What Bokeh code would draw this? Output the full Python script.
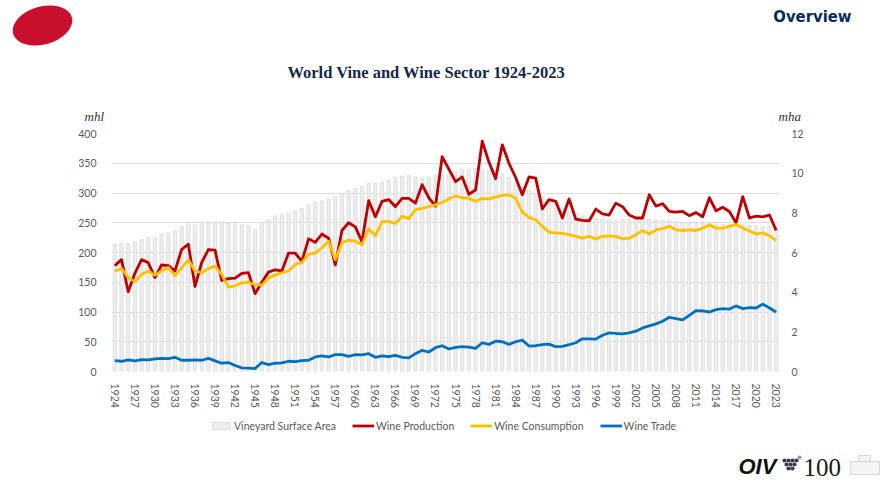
from bokeh.plotting import figure
from bokeh.models import (Range1d, LinearAxis, FixedTicker, Legend, LegendItem,
                          Label, ColumnDataSource)
from bokeh.layouts import column
from bokeh.embed import file_html
from bokeh.resources import INLINE

# ---------------- data ----------------
years = list(range(1924, 2024))

vineyard_area = [  # mha (right axis)
    6.40, 6.45, 6.45, 6.53, 6.65, 6.77, 6.77, 6.93, 6.98, 7.10,
    7.32, 7.45, 7.37, 7.52, 7.50, 7.53, 7.53, 7.47, 7.45, 7.40,
    7.37, 7.15, 7.52, 7.65, 7.85, 7.93, 7.98, 8.10, 8.23, 8.40,
    8.53, 8.60, 8.70, 8.82, 8.98, 9.12, 9.23, 9.32, 9.48, 9.50,
    9.53, 9.65, 9.80, 9.85, 9.88, 9.80, 9.73, 9.80, 9.88, 9.92,
    9.98, 10.07, 10.18, 10.18, 10.23, 10.20, 10.15, 10.08, 9.95, 9.80,
    9.60, 9.35, 9.12, 8.95, 8.80, 8.62, 8.45, 8.25, 8.10, 7.95,
    7.85, 7.76, 7.70, 7.66, 7.63, 7.63, 7.66, 7.69, 7.71, 7.70,
    7.67, 7.64, 7.62, 7.60, 7.56, 7.53, 7.50, 7.48, 7.47, 7.47,
    7.45, 7.43, 7.42, 7.41, 7.42, 7.38, 7.35, 7.32, 7.30, 7.25,
]

wine_production = [  # mhl
    178, 188, 134, 165, 188, 183, 158, 179, 178, 169,
    205, 214, 143, 183, 205, 204, 153, 156, 157, 165,
    166, 131, 150, 167, 171, 169, 199, 199, 185, 223,
    217, 231, 224, 179, 237, 250, 243, 218, 287, 260,
    286, 289, 277, 291, 291, 283, 314, 292, 278, 361,
    340, 319, 327, 298, 305, 387, 352, 324, 381, 350,
    326, 297, 327, 325, 273, 289, 286, 258, 290, 256,
    254, 253, 273, 265, 263, 283, 277, 263, 258, 258,
    297, 278, 282, 269, 268, 269, 262, 267, 260, 292,
    270, 276, 269, 250, 294, 258, 261, 260, 263, 237,
]

wine_consumption = [  # mhl
    169, 173, 158, 151, 163, 169, 162, 169, 175, 161,
    174, 188, 169, 166, 173, 177, 163, 142, 144, 149,
    150, 146, 145, 157, 162, 166, 169, 180, 183, 197,
    199, 208, 219, 188, 216, 221, 219, 213, 240, 228,
    252, 252, 249, 261, 257, 272, 274, 277, 280, 284,
    290, 295, 292, 291, 286, 291, 290, 293, 296, 297,
    291, 268, 259, 255, 244, 234, 233, 232, 230, 227,
    224, 227, 223, 227, 228, 227, 223, 224, 230, 237,
    231, 238, 240, 244, 238, 237, 238, 237, 241, 246,
    241, 241, 244, 247, 241, 236, 231, 233, 228, 220,
]

wine_trade = [  # mhl
    18.3, 17.2, 19.4, 17.8, 20.0, 19.4, 21.1, 22.2, 21.7, 23.9,
    18.9, 18.9, 19.4, 18.9, 22.2, 17.8, 13.9, 15.0, 10.0, 6.1,
    5.6, 5.0, 15.0, 11.7, 13.9, 14.4, 17.2, 16.7, 18.3, 18.9,
    24.4, 26.1, 24.4, 28.3, 28.3, 25.6, 28.3, 27.8, 30.0, 23.9,
    26.1, 25.0, 27.2, 23.9, 22.8, 30.0, 35.6, 32.8, 40.0, 43.3,
    37.8, 40.6, 41.7, 41.0, 38.9, 48.3, 45.6, 51.0, 50.0, 45.6,
    50.0, 52.8, 42.8, 43.3, 45.0, 46.0, 41.7, 42.2, 45.0, 48.3,
    55.0, 55.0, 54.4, 61.0, 65.0, 63.9, 63.3, 65.0, 67.8, 73.3,
    76.7, 80.0, 84.4, 91.1, 88.9, 86.7, 94.4, 102.2, 101.7, 100.0,
    103.9, 105.6, 105.0, 110.0, 105.6, 107.2, 106.7, 113.3, 106.7, 100.0,
]

x_tick_years = list(range(1924, 2024, 3))
left_ticks = [0, 50, 100, 150, 200, 250, 300, 350, 400]
right_ticks = [0, 2, 4, 6, 8, 10, 12]

series_labels = ["Vineyard Surface Area", "Wine Production",
                 "Wine Consumption", "Wine Trade"]

# ---------------- styles ----------------
W = 884
RED = "#C00000"
YELLOW = "#FFC000"
BLUE = "#0070C0"
NAVY = "#13294B"
TICK = "#595959"
FONT = "Lato"
BAR_FILL = "#EDEDED"
BAR_LINE = "#D4D4D4"
LW = 2.8


def blank(height):
    f = figure(width=W, height=height, x_range=Range1d(0, W), y_range=Range1d(0, height),
               toolbar_location=None, output_backend="svg", min_border=0,
               x_axis_location=None, y_axis_location=None, frame_align=False)
    f.grid.visible = False
    f.outline_line_color = None
    return f


# ---------------- header (page y 0..125) ----------------
header = blank(125)
header.ellipse(x=[42], y=[100], width=61, height=38, angle=0.28,
               fill_color="#C8102E", line_color=None)
header.add_layout(Label(x=851, y=109, text="Overview", text_align="right",
                        text_baseline="middle", text_font="DejaVu Sans Condensed",
                        text_font_style="bold", text_font_size="16.5px",
                        text_color="#0B2A5B"))
header.add_layout(Label(x=426, y=53, text="World Vine and Wine Sector 1924-2023",
                        text_align="center", text_baseline="middle",
                        text_font="Liberation Serif", text_font_style="bold",
                        text_font_size="16.5px", text_color=NAVY))
header.add_layout(Label(x=84, y=9, text="mhl", text_baseline="middle",
                        text_font="Liberation Serif", text_font_style="italic",
                        text_font_size="13px", text_color="#333333"))
header.add_layout(Label(x=778, y=9, text="mha", text_baseline="middle",
                        text_font="Liberation Serif", text_font_style="italic",
                        text_font_size="13px", text_color="#333333"))

# ---------------- main chart (page y 125..410) ----------------
src = ColumnDataSource(dict(year=years, area=vineyard_area, prod=wine_production,
                            cons=wine_consumption, trade=wine_trade))

p = figure(width=W, height=285, x_range=Range1d(1923.5, 2023.5),
           y_range=Range1d(0, 400), toolbar_location=None, output_backend="svg",
           min_border_left=111, min_border_right=105, min_border_top=8,
           min_border_bottom=37, frame_align=False)
p.extra_y_ranges = {"mha": Range1d(0, 12)}
p.outline_line_color = None

p.vbar(x="year", top="area", width=0.5, source=src, y_range_name="mha",
       fill_color=BAR_FILL, line_color=BAR_LINE, line_width=0.6)
p.line("year", "prod", source=src, line_color=RED, line_width=LW, line_join="round")
p.line("year", "cons", source=src, line_color=YELLOW, line_width=LW, line_join="round")
p.line("year", "trade", source=src, line_color=BLUE, line_width=LW, line_join="round")

p.xaxis.ticker = FixedTicker(ticks=x_tick_years)
p.xaxis.major_label_orientation = "vertical"
p.yaxis.ticker = FixedTicker(ticks=left_ticks)
for ax in (p.xaxis[0], p.yaxis[0]):
    ax.axis_line_color = None
    ax.major_tick_line_color = None
    ax.minor_tick_line_color = None
    ax.major_label_text_color = TICK
    ax.major_label_text_font = FONT
    ax.major_label_text_font_size = "10.5px"
p.xaxis.major_label_standoff = 6
p.yaxis.major_label_standoff = 9

right_axis = LinearAxis(y_range_name="mha", ticker=FixedTicker(ticks=right_ticks),
                        axis_line_color=None, major_tick_line_color=None,
                        minor_tick_line_color=None, major_label_text_color=TICK,
                        major_label_text_font=FONT, major_label_text_font_size="10.5px",
                        major_label_standoff=6)
p.add_layout(right_axis, "right")

p.xgrid.visible = False
p.ygrid.ticker = FixedTicker(ticks=left_ticks)
p.ygrid.grid_line_color = "#DCDCDC"
p.ygrid.grid_line_width = 1

# ---------------- footer: legend + OIV logo (page y 410..482) ----------------
footer = blank(72)
# legend swatch renderers (kept outside the visible range)
lg_bar = footer.vbar(x=[-50], top=[-40], bottom=[-45], width=1,
                     fill_color=BAR_FILL, line_color=BAR_LINE, line_width=0.8)
lg_prod = footer.line([-50, -40], [-50, -50], line_color=RED, line_width=LW)
lg_cons = footer.line([-50, -40], [-50, -50], line_color=YELLOW, line_width=LW)
lg_trade = footer.line([-50, -40], [-50, -50], line_color=BLUE, line_width=LW)

legend = Legend(items=[LegendItem(label=series_labels[0], renderers=[lg_bar]),
                       LegendItem(label=series_labels[1], renderers=[lg_prod]),
                       LegendItem(label=series_labels[2], renderers=[lg_cons]),
                       LegendItem(label=series_labels[3], renderers=[lg_trade])],
                orientation="horizontal", location=(210, 50), padding=0, margin=0,
                spacing=16, glyph_width=22, glyph_height=9, label_standoff=2,
                label_height=13, label_text_font=FONT, label_text_font_size="10.5px",
                label_text_color=TICK, border_line_color=None,
                background_fill_alpha=0)
footer.add_layout(legend, "center")

footer.add_layout(Label(x=738, y=16, text="OIV", text_baseline="middle",
                        text_font="Liberation Sans", text_font_style="bold italic",
                        text_font_size="22px", text_color="#111111"))
footer.scatter(x=[784, 788, 792, 796, 786, 790, 794, 788, 792],
               y=[22, 22, 22, 22, 18, 18, 18, 14, 14], size=4.2,
               fill_color="#3b3b4f", line_color=None)
footer.scatter(x=[799], y=[25], size=4, fill_color="#9a9aa8", line_color=None)
footer.add_layout(Label(x=803, y=15, text="100", text_baseline="middle",
                        text_font="Liberation Serif", text_font_size="25px",
                        text_color="#1a1a1a"))
footer.quad(left=[850], right=[879], bottom=[8], top=[21], fill_color="#F4F4F4",
            line_color="#CFCFCF", line_width=0.8)
footer.quad(left=[858], right=[870], bottom=[21], top=[27], fill_color="#F4F4F4",
            line_color="#CFCFCF", line_width=0.8)

layout = column(header, p, footer, spacing=0)

open("out.html", "w").write(file_html(layout, INLINE))
